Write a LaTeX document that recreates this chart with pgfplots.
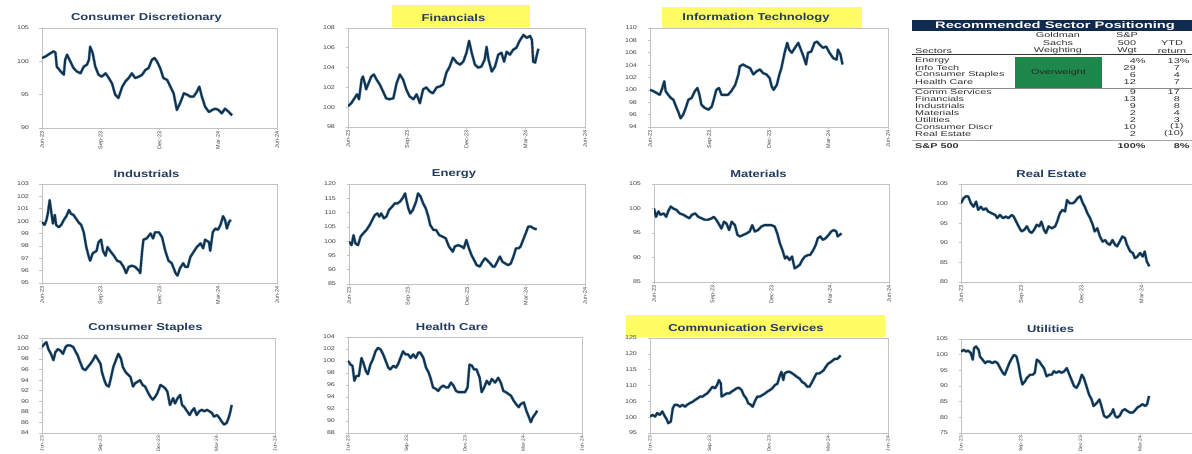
\documentclass[border=0pt]{standalone}
\usepackage{pgfplots}
\pgfplotsset{compat=1.18}
\usepackage{pgfplotstable}
\usepackage{fontspec}
\setmainfont{Liberation Sans}[FakeStretch=1.3]
\newfontfamily\tabfont{Liberation Sans}[FakeStretch=1.55]
\newfontfamily\rotfont{Liberation Sans}

\definecolor{navyline}{RGB}{22,48,72}
\definecolor{haloblue}{RGB}{110,165,205}
\definecolor{framegray}{RGB}{195,195,195}
\definecolor{labelgray}{RGB}{70,70,70}
\definecolor{titleblue}{RGB}{35,60,95}
\definecolor{hiyellow}{RGB}{255,252,100}
\definecolor{barnavy}{RGB}{18,42,78}
\definecolor{owgreen}{RGB}{30,135,75}
\definecolor{tabtext}{RGB}{50,50,50}

% Sector indices, rebased to 100 at the start of June 2023 (x = days since 1 Jun 2023)
\pgfplotstableread{
d v
0 100.5
5 100.7
13 101.2
18 101.5
21 101.3
23 99.2
29 98.5
34 98.0
36 100.2
39 101.0
44 100.0
49 99.0
54 98.5
60 98.2
65 99.2
70 99.5
73 100.2
75 102.2
79 101.2
83 99.2
88 98.0
93 97.7
99 98.2
104 97.5
109 96.7
114 95.0
119 94.5
125 96.2
130 97.0
135 97.5
140 98.2
145 97.5
151 97.7
156 98.0
161 98.7
166 99.0
171 100.2
175 100.5
179 100.0
184 99.0
189 97.5
195 97.2
200 96.2
205 95.2
210 92.7
215 93.7
221 95.2
226 95.0
231 94.7
236 94.7
241 95.4
245 96.2
249 94.7
254 93.2
260 92.4
265 92.7
270 92.9
275 92.7
280 92.2
285 92.9
291 92.4
296 91.9
}\cdData

\pgfplotstableread{
d v
0 100.1
5 100.4
10 100.9
14 101.3
17 100.8
21 102.8
23 103.1
26 102.4
28 101.8
31 102.3
36 103.1
40 103.3
44 102.8
49 102.3
54 101.6
59 100.9
64 100.8
70 100.9
75 102.4
80 103.3
85 102.8
90 101.8
95 101.1
101 100.8
106 101.3
111 100.4
116 101.8
121 102.0
126 101.6
131 101.4
137 102.0
142 102.1
147 102.3
152 103.5
157 104.1
162 105.0
168 104.5
173 104.3
178 104.6
183 105.5
187 106.7
191 105.5
196 104.3
201 104.0
206 104.1
211 104.8
214 106.1
217 104.8
222 103.6
227 104.1
232 105.3
237 105.5
241 104.6
245 105.6
250 105.3
255 105.8
260 106.0
265 106.7
271 107.3
276 107.0
281 107.2
284 106.8
286 104.6
289 104.5
291 105.1
294 105.9
}\finData

\pgfplotstableread{
d v
0 100.0
5 99.8
10 99.5
15 99.2
18 100.0
22 101.4
24 99.8
28 99.2
32 98.7
36 98.4
40 97.3
44 96.3
47 95.4
51 96.0
55 97.1
59 98.4
64 98.7
69 99.8
73 100.3
76 99.2
79 97.6
84 97.1
90 96.8
95 97.3
98 98.4
102 100.0
106 100.3
110 99.2
115 99.2
120 99.2
125 99.8
131 100.8
136 102.5
138 103.8
143 104.1
148 103.8
154 103.5
159 102.5
164 103.0
169 103.3
174 102.7
179 102.5
184 101.9
187 100.6
190 100.0
195 100.8
199 102.5
202 103.5
207 106.0
211 107.6
214 106.5
218 106.0
223 106.8
228 107.6
232 106.5
236 105.4
240 104.1
243 106.0
248 106.2
253 107.6
257 107.8
261 107.3
266 106.8
271 107.0
276 106.0
282 105.1
287 104.9
289 106.5
293 105.7
296 104.1
}\itData

\pgfplotstableread{
d v
0 99.9
4 99.7
7 100.1
9 100.6
12 101.7
14 100.9
17 99.8
20 100.5
22 99.7
26 99.5
30 99.7
34 100.1
38 100.4
42 100.9
45 100.6
49 100.5
53 100.2
57 99.9
61 99.7
65 99.1
69 97.9
73 97.1
75 96.8
79 97.4
85 97.6
88 98.3
92 98.5
95 97.6
99 97.2
102 97.9
106 97.6
112 97.2
117 96.8
122 96.7
127 96.3
131 95.8
135 96.3
140 96.4
145 96.3
151 96.0
153 95.8
156 97.6
158 98.5
163 98.6
169 99.0
173 98.6
176 99.1
182 99.1
187 98.7
192 97.6
197 96.8
202 96.6
208 95.8
211 95.6
215 96.2
220 96.6
223 96.3
227 96.3
231 97.1
236 97.5
241 97.9
247 98.2
251 97.8
254 98.5
260 98.3
262 97.6
266 99.1
270 99.4
274 99.3
278 99.7
282 100.4
285 100.1
288 99.4
291 99.9
294 100.1
}\indData

\pgfplotstableread{
d v
0 99.8
4 98.6
7 102.1
10 99.2
14 98.6
18 101.6
22 102.7
27 103.9
32 105.6
36 107.4
40 109.1
44 109.7
47 108.6
50 109.7
54 108.0
58 108.6
62 110.9
67 112.1
71 113.2
75 113.2
79 113.8
83 115.0
87 116.7
89 114.4
92 111.5
95 109.7
99 110.9
104 113.8
107 116.7
111 115.6
115 113.2
119 111.5
123 108.6
126 105.6
131 103.9
135 103.9
140 102.1
145 101.6
150 101.0
155 98.1
161 96.3
164 98.1
169 98.6
175 98.1
178 97.5
182 100.4
186 97.5
190 95.1
194 93.4
198 91.6
203 91.1
207 92.8
211 94.0
214 93.4
219 92.2
223 91.1
226 91.1
230 92.8
234 94.6
238 92.8
242 92.2
247 91.6
251 92.2
255 94.6
259 97.5
263 97.5
266 98.1
270 100.4
275 103.3
278 105.1
282 105.1
286 104.5
291 104.1
}\engData

\pgfplotstableread{
d v
0 100.0
3 98.3
7 99.4
10 98.7
15 99.0
19 98.3
22 99.4
26 100.4
30 100.0
35 99.7
40 99.0
46 98.7
51 98.3
55 98.0
59 98.7
64 99.0
69 98.3
74 98.0
79 97.7
84 97.7
90 98.0
93 98.3
97 97.7
102 96.6
105 95.9
109 97.3
113 96.9
117 95.6
121 97.3
126 96.6
130 94.6
134 94.3
139 94.6
144 94.9
149 95.3
153 96.6
157 95.3
162 95.6
167 96.3
172 96.6
178 96.6
183 96.6
188 96.3
192 94.9
196 92.9
200 91.5
204 89.8
207 90.2
211 89.5
215 90.2
219 87.8
223 88.1
227 88.5
231 89.5
235 90.2
240 90.5
243 90.5
248 91.5
252 92.6
255 93.9
259 94.3
263 93.6
267 93.9
272 94.6
276 95.3
280 95.6
284 95.3
286 94.3
289 94.6
292 94.9
}\matData

\pgfplotstableread{
d v
0 100.1
4 101.4
8 101.9
11 101.8
15 100.1
19 99.2
23 100.5
26 98.4
30 99.2
34 98.4
38 98.8
41 98.0
47 97.5
52 97.1
55 96.3
59 97.1
64 96.3
68 96.7
72 96.3
77 97.1
80 96.7
85 95.0
89 93.7
92 92.9
96 93.3
100 94.2
104 92.9
107 92.5
111 93.3
115 94.6
119 94.2
122 95.4
126 93.3
129 92.5
133 94.2
138 93.7
143 94.2
146 95.4
150 97.5
154 98.4
158 98.0
161 100.9
165 100.1
170 100.1
173 100.5
177 101.4
181 101.9
185 100.1
188 99.2
192 97.5
196 96.3
200 94.6
203 92.9
207 93.7
211 91.6
215 90.3
219 90.7
222 89.9
226 89.5
230 90.7
234 89.5
237 89.1
241 90.3
245 91.6
249 91.2
252 89.5
257 87.8
261 87.4
264 86.1
268 86.5
272 87.4
276 86.5
279 87.8
282 85.3
286 84.0
}\reData

\pgfplotstableread{
d v
0 100.3
4 100.9
7 101.2
10 99.9
14 99.0
18 97.8
21 99.3
25 99.9
29 99.6
33 99.0
37 100.3
40 100.6
44 100.6
49 100.3
52 99.6
56 98.7
60 97.4
64 96.2
68 95.9
72 96.5
76 97.1
80 97.8
84 98.7
87 98.1
92 97.1
94 95.6
98 94.0
101 93.1
105 92.8
108 94.3
112 96.5
117 98.1
120 99.0
124 98.1
127 96.5
131 95.6
134 95.2
139 94.6
143 92.8
146 93.4
150 93.7
154 94.0
158 93.1
162 92.8
166 91.8
170 90.9
174 90.3
178 90.9
181 91.5
186 93.1
190 92.8
194 92.4
197 91.8
201 89.3
206 90.6
209 89.6
213 90.6
217 91.2
220 89.3
223 89.0
228 88.1
232 87.4
235 88.1
239 88.7
243 87.4
247 88.1
251 88.4
255 88.1
259 88.4
263 88.1
267 87.8
270 87.1
275 87.4
279 86.8
282 86.2
286 85.6
290 85.9
293 86.8
296 88.1
298 89.3
}\csData

\pgfplotstableread{
d v
0 100.0
4 99.4
7 99.2
10 96.7
13 97.5
17 97.5
21 100.5
24 99.7
28 98.3
31 97.8
35 99.4
39 100.3
43 101.6
47 102.2
51 101.9
55 101.1
59 100.0
63 98.9
66 98.6
71 99.2
75 98.9
78 99.4
82 100.5
86 101.6
90 101.1
94 101.1
98 100.5
102 101.1
106 100.5
110 101.4
113 101.4
118 100.5
122 98.9
126 98.1
129 97.2
133 95.6
138 95.3
141 95.0
145 95.6
149 95.9
153 95.6
157 95.6
161 96.4
165 95.9
169 95.0
173 94.8
178 94.8
183 94.8
187 95.6
190 99.4
194 99.2
197 98.6
201 98.6
206 97.2
209 94.8
213 95.6
217 96.7
221 96.1
225 97.0
230 96.4
235 97.2
239 96.4
243 95.0
247 94.8
251 94.5
255 94.2
259 93.4
263 92.8
267 92.3
270 92.8
275 93.1
279 91.7
282 90.9
286 89.8
289 90.6
293 91.2
296 91.7
}\hcData

\pgfplotstableread{
d v
0 100.2
4 100.7
8 100.2
11 101.3
15 100.7
19 101.8
23 100.2
26 99.2
28 98.1
32 98.6
35 102.8
38 103.9
42 103.9
46 103.3
50 103.9
54 103.3
57 103.9
61 104.4
66 104.9
69 105.4
73 105.9
77 106.5
81 106.5
84 107.0
88 107.5
92 108.5
96 109.6
100 109.1
103 110.1
106 111.7
109 110.6
110 106.5
114 107.0
118 107.5
122 107.5
125 108.0
129 108.5
133 109.1
137 109.3
141 108.5
144 107.0
148 105.9
151 104.4
155 103.9
158 103.3
161 104.9
165 106.5
169 106.5
173 107.0
177 107.5
180 108.0
184 108.5
188 109.1
192 110.1
196 110.6
199 112.7
202 114.3
205 111.7
207 113.8
211 114.3
215 114.3
219 113.8
223 113.2
226 112.7
230 112.2
234 111.1
238 110.6
242 109.6
245 109.6
248 110.6
252 112.2
256 113.8
260 113.8
264 114.3
267 114.8
270 115.8
274 116.9
278 117.4
281 117.9
284 118.4
288 118.4
291 119.0
293 119.5
}\comData

\pgfplotstableread{
d v
0 101.0
4 101.5
8 101.0
11 101.3
15 100.5
18 98.4
20 102.1
23 102.6
27 101.5
29 99.4
33 98.4
37 97.3
40 97.8
44 97.8
48 97.3
52 97.8
56 97.3
60 95.7
64 94.2
67 93.6
70 95.2
74 97.3
78 98.9
81 99.9
85 99.4
88 96.8
91 93.1
94 90.5
98 91.5
101 92.6
106 93.6
110 93.6
113 94.2
116 98.4
120 97.8
123 96.8
127 95.7
131 93.1
135 93.6
139 93.6
142 94.7
146 94.2
150 94.7
154 94.2
158 94.7
162 95.7
166 93.6
169 92.1
173 90.0
177 89.4
181 91.0
185 93.6
188 92.6
192 90.0
196 87.3
200 85.7
203 83.6
208 84.6
212 85.7
215 83.6
219 80.5
223 79.9
227 80.5
231 81.5
233 82.6
236 80.5
239 79.9
243 80.5
247 82.1
251 82.6
254 82.1
259 81.5
263 81.5
266 82.1
270 83.1
274 83.6
278 84.2
282 83.6
285 84.2
288 86.8
}\utilData

\pgfplotsset{
  sector/.style={
    scale only axis,
    anchor=south west,
    xmin=0, xmax=366,
    xtick={0,92,183,274,366},
    xticklabels={Jun-23,Sep-23,Dec-23,Mar-24,Jun-24},
    xtick pos=bottom, ytick pos=left,
    tick align=outside,
    major tick length=2.5pt,
    minor tick num=0,
    axis line style={draw=framegray, line width=0.8pt},
    every tick/.style={draw=framegray, line width=0.6pt},
    x tick label style={font=\rotfont\fontsize{5.5}{6}\selectfont, rotate=90,
      anchor=east, text=labelgray, inner sep=1pt},
    y tick label style={font=\fontsize{5.5}{6}\selectfont, text=labelgray,
      xshift=-7pt},
    /pgf/number format/assume math mode=true,
    title style={font=\bfseries\fontsize{10}{12}\selectfont, text=titleblue,
      at={(0.5,1)}, anchor=center, yshift=4pt, xshift=-13pt},
  },
  % the right-hand column runs past the page edge: its last date label is not set
  edgepanel/.style={
    xticklabels={Jun-23,Sep-23,Dec-23,Mar-24,},
    title style={xshift=-17pt},
  },
  % bottom row: slightly smaller date labels so they stay on the page
  bottomrow/.style={
    x tick label style={font=\rotfont\fontsize{4.9}{5.5}\selectfont, inner sep=0.5pt},
  },
}

\newcommand{\sectorline}[1]{%
  \addplot[haloblue, line width=2.9pt, line join=round] table[x=d, y=v] {#1};
  \addplot[navyline, line width=1.9pt, line join=round] table[x=d, y=v] {#1};
}

\tikzset{
  tabcell/.style={font=\tabfont\fontsize{7}{8}\selectfont, text=tabtext,
    inner sep=0pt},
}

\newcommand{\trow}[4]{%
  \node[tabcell, anchor=west] at (915pt,#1pt) {#2};
  \node[tabcell, anchor=east] at (1136pt,#1pt) {#3};
  \node[tabcell, anchor=east] at (1180pt,#1pt) {#4};
}

\begin{document}
\begin{tikzpicture}
\useasboundingbox (0,0) rectangle (1192pt,454pt);
\fill[white] (0,0) rectangle (1192pt,454pt);
\clip (0,0) rectangle (1192pt,454pt);

% highlighted overweight sectors
\fill[hiyellow] (392pt,427pt) rectangle (530pt,449pt);
\fill[hiyellow] (662pt,426pt) rectangle (862pt,447pt);
\fill[hiyellow] (626pt,117pt) rectangle (885pt,139pt);

% ---- row 1 ----
\begin{axis}[sector, at={(42pt,326pt)}, width=235pt, height=100pt,
  ymin=90, ymax=105, ytick={90,95,100,105}, title={Consumer Discretionary}]
\sectorline{\cdData}
\end{axis}

\begin{axis}[sector, at={(348pt,327pt)}, width=237pt, height=99pt,
  ymin=98, ymax=108, ytick={98,100,...,108}, title={Financials}]
\sectorline{\finData}
\end{axis}

\begin{axis}[sector, at={(650pt,327pt)}, width=238pt, height=99pt,
  ymin=94, ymax=110, ytick={94,96,...,110}, title={Information Technology}]
\sectorline{\itData}
\end{axis}

% ---- row 2 ----
\begin{axis}[sector, at={(42pt,171pt)}, width=235pt, height=99pt,
  ymin=95, ymax=103, ytick={95,96,...,103}, title={Industrials}]
\sectorline{\indData}
\end{axis}

\begin{axis}[sector, at={(349pt,170pt)}, width=236pt, height=100pt,
  ymin=85, ymax=120, ytick={85,90,...,120}, title={Energy}]
\sectorline{\engData}
\end{axis}

\begin{axis}[sector, at={(654pt,172pt)}, width=235pt, height=98pt,
  ymin=85, ymax=105, ytick={85,90,...,105}, title={Materials}]
\sectorline{\matData}
\end{axis}

\begin{axis}[sector, edgepanel, at={(961pt,172pt)}, width=241pt, height=98pt,
  ymin=80, ymax=105, ytick={80,85,...,105}, title={Real Estate}]
\sectorline{\reData}
\end{axis}

% ---- row 3 ----
\begin{axis}[sector, bottomrow, at={(42pt,21pt)}, width=233pt, height=95pt,
  ymin=84, ymax=102, ytick={84,86,...,102}, title={Consumer Staples}]
\sectorline{\csData}
\end{axis}

\begin{axis}[sector, bottomrow, at={(348pt,21pt)}, width=234pt, height=96pt,
  ymin=88, ymax=104, ytick={88,90,...,104}, title={Health Care}]
\sectorline{\hcData}
\end{axis}

\begin{axis}[sector, bottomrow, at={(650pt,21pt)}, width=238pt, height=95pt,
  ymin=95, ymax=125, ytick={95,100,...,125}, title={Communication Services},
  title style={xshift=-10pt}]
\sectorline{\comData}
\end{axis}

\begin{axis}[sector, bottomrow, edgepanel, at={(961pt,21pt)}, width=239pt, height=94pt,
  ymin=75, ymax=105, ytick={75,80,...,105}, title={Utilities}]
\sectorline{\utilData}
\end{axis}

% ---- recommended sector positioning table ----
\fill[barnavy] (912pt,423pt) rectangle (1200pt,433.5pt);
\node[font=\tabfont\bfseries\fontsize{9.5}{10}\selectfont, text=white, inner sep=0pt]
  at (1055pt,428.3pt) {Recommended Sector Positioning};

\node[tabcell] at (1058pt,419pt) {Goldman};
\node[tabcell] at (1058pt,411pt) {Sachs};
\node[tabcell] at (1058pt,403pt) {Weighting};
\node[tabcell] at (1127pt,419pt) {S\&P};
\node[tabcell] at (1127pt,411pt) {500};
\node[tabcell] at (1127pt,403pt) {Wgt};
\node[tabcell] at (1172pt,411pt) {YTD};
\node[tabcell] at (1172pt,403pt) {return};
\node[tabcell, anchor=west] at (915pt,403pt) {Sectors};
\draw[tabtext, line width=0.7pt] (912pt,399.5pt) -- (1200pt,399.5pt);

\fill[owgreen] (1015pt,366pt) rectangle (1102pt,397pt);
\node[tabcell, text=black!85] at (1058.5pt,381.5pt) {Overweight};

\trow{393}{Energy}{4\rlap{\%}}{13\rlap{\%}}
\trow{386}{Info Tech}{29}{7}
\trow{379}{Consumer Staples}{6}{4}
\trow{372}{Health Care}{12}{7}
\draw[black!45, line width=0.6pt] (912pt,366pt) -- (1200pt,366pt);
\trow{362}{Comm Services}{9}{17}
\trow{355}{Financials}{13}{8}
\trow{348}{Industrials}{9}{8}
\trow{341}{Materials}{2}{4}
\trow{334}{Utilities}{2}{3}
\trow{327}{Consumer Discr}{10}{(1\rlap{)}}
\trow{320}{Real Estate}{2}{(10\rlap{)}}
\draw[black!35, line width=0.5pt] (912pt,314pt) -- (1200pt,314pt);
\node[tabcell, anchor=west, font=\tabfont\bfseries\fontsize{7}{8}\selectfont] at (915pt,308pt) {S\&P 500};
\node[tabcell, anchor=east, font=\tabfont\bfseries\fontsize{7}{8}\selectfont] at (1136pt,308pt) {100\rlap{\%}};
\node[tabcell, anchor=east, font=\tabfont\bfseries\fontsize{7}{8}\selectfont] at (1180pt,308pt) {8\rlap{\%}};
\end{tikzpicture}
\end{document}
